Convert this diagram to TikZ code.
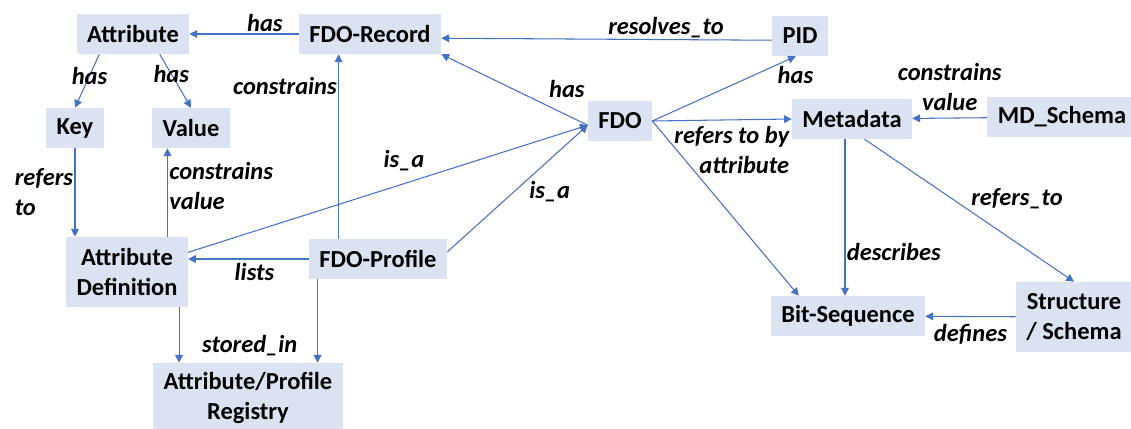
\documentclass[tikz,border=0pt]{standalone}
\usepackage{fontspec}
\setmainfont{Carlito}
\usetikzlibrary{arrows.meta,positioning}
\definecolor{boxfill}{RGB}{219,227,242}
\definecolor{linecol}{RGB}{68,114,196}

\begin{document}
\begin{tikzpicture}[
    x=0.025cm, y=-0.025cm,
    font=\fontsize{17.4}{21.3}\selectfont,
    box/.style={fill=boxfill,inner xsep=0.26cm,inner ysep=0pt,minimum height=1cm,
        font=\fontsize{17.4}{21.3}\selectfont\bfseries,align=center},
    tall/.style={box,minimum height=1.75cm},
    lbl/.style={font=\fontsize{17.4}{21.3}\selectfont\bfseries\itshape,inner sep=1pt},
    line/.style={draw=linecol,line width=0.75pt,-{Triangle[length=5.5pt,width=5.5pt]}}
]
\useasboundingbox (0,0) rectangle (1131,428);

% Record side
\node[box] (attr) at (133,34) {Attribute};
\node[box] (rec) at (370,34) {FDO-Record};
\node[box] (key) at (75,128) {Key};
\node[box] (val) at (191,128) {Value};
\node[tall] (adef) at (127,272) {Attribute\\Definition};
\node[box] (prof) at (378,259) {FDO-Profile};
\node[tall] (reg) at (248,398) {Attribute/Profile\\Registry};

% Object side
\node[box] (fdo) at (620,121) {FDO};
\node[box] (pid) at (800,36) {PID};
\node[box] (md) at (852,119) {Metadata};
\node[box] (mds) at (1062,117) {MD\_Schema};
\node[box] (bits) at (848,316) {Bit-Sequence};
\node[tall] (sts) at (1074,317) {Structure\\/ Schema};

% Top row
\draw[line] (rec) -- node[lbl,pos=.31,above] {has} (attr);
\draw[line] ([yshift=-3pt]pid.west) -- node[lbl,pos=.32,above=0pt] {resolves\_to} ([yshift=-3pt]rec.east);
\draw[line] ([yshift=-3pt]fdo.west) -- node[lbl,pos=.2,above right=8pt and -8pt] {has} (rec.south east);

% Attribute parts
\draw[line] ([xshift=-24pt]attr.south) -- node[lbl,pos=.4] {has} (key.north);
\draw[line] ([xshift=19pt]attr.south) -- node[lbl,pos=.37] {has} (val.north);
\draw[line] (key.south) -- node[lbl,left,align=left] {refers\\to} (key.south |- adef.north);
\coordinate (vin) at ([xshift=11pt]val.south west);
\draw[line] (vin |- adef.north) -- node[lbl,pos=.57,right,align=left] {constrains\\value} (vin);

% Profile
\draw[line] ([xshift=-28pt]prof.north) -- node[lbl,pos=.83,left] {constrains} ([xshift=-28pt]prof.north |- rec.south);
\draw[line] (prof.west) -- node[lbl,pos=.45,below=2pt] {lists} (prof.west -| adef.east);
\draw[line] ([yshift=14pt]adef.east) -- node[lbl,pos=.54,above=8pt] {is\_a} ([yshift=-3pt]fdo.west);
\draw[line] ([yshift=5pt]prof.east) -- node[lbl,pos=.57,below right] {is\_a} ([yshift=-3pt]fdo.west);

% Registry
\draw[line] ([xshift=37pt]adef.south) -- ([xshift=37pt]adef.south |- reg.north);
\draw[line] ([xshift=-43pt]prof.south) -- node[lbl,pos=.79,left=13pt] {stored\_in} ([xshift=-43pt]prof.south |- reg.north);

% FDO links
\draw[line] (fdo.east) -- node[lbl,pos=.9,below right=1pt and -4pt] {has} ([xshift=-3pt]pid.south);
\draw[line] (fdo.east) -- node[lbl,pos=.57,below=3pt,align=right] {refers to by\\attribute} (md.west);
\draw[line] (fdo.east) -- ([xshift=20pt]bits.north west);

% Metadata
\draw[line] (mds) -- node[lbl,above=4pt,align=center] {constrains\\value} (md);
\draw[line] ([xshift=-5pt]md.south) -- node[lbl,pos=.72,right] {describes} ([xshift=-5pt]md.south |- bits.north);
\draw[line] ([xshift=9pt]md.south) -- node[lbl,pos=.5,above right] {refers\_to} (sts.north);
\draw[line] (sts) -- node[lbl,below=4pt] {defines} (bits);

\end{tikzpicture}
\end{document}
